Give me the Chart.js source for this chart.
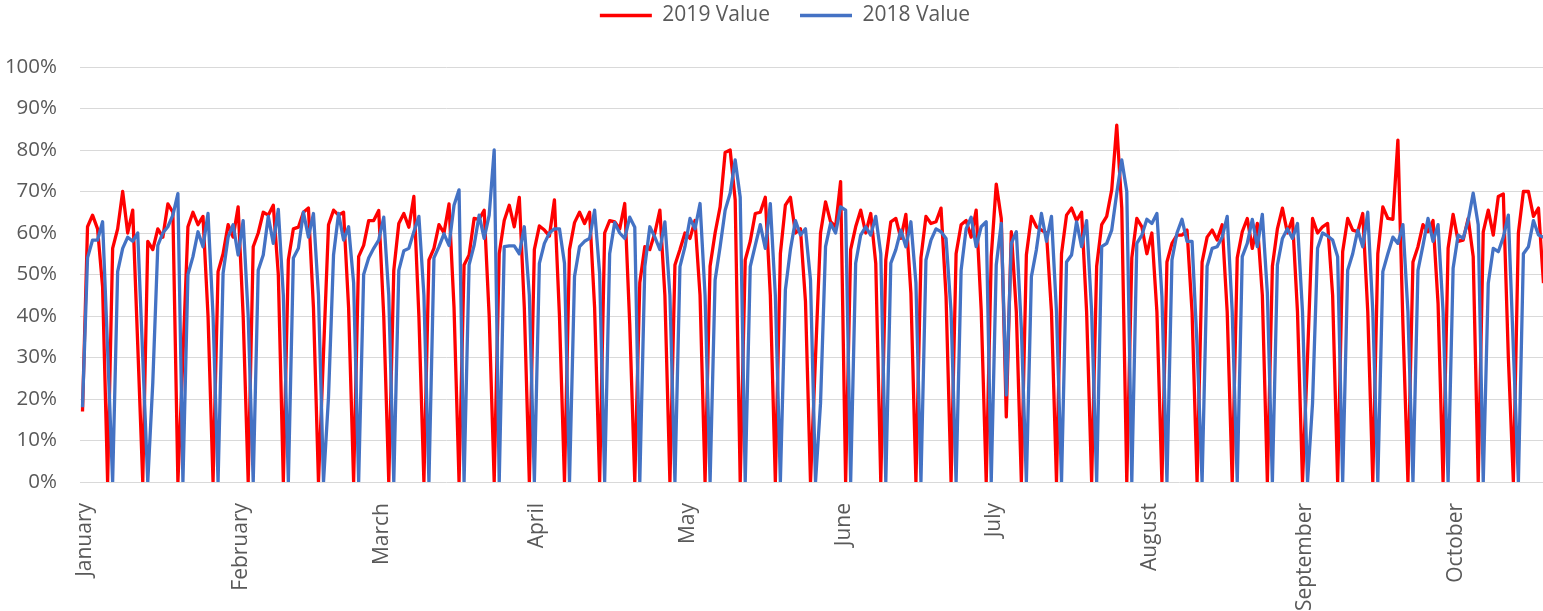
<!DOCTYPE html>
<html>
<head>
<meta charset="utf-8">
<script src="https://cdn.jsdelivr.net/npm/chart.js@4.4.1/dist/chart.umd.min.js"></script>
<style>
  html, body { margin: 0; padding: 0; background: #ffffff; overflow: hidden; }
  #wrap { width: 1546px; height: 611px; }
</style>
</head>
<body>
<div id="wrap"><canvas id="c" width="1546" height="611"></canvas></div>
<script>
// ---- data ----
const monthNames = ['January','February','March','April','May','June','July','August','September','October'];
const monthStartIndex = [0, 31, 59, 90, 120, 151, 181, 212, 243, 273];
const yTickValues = [0,10,20,30,40,50,60,70,80,90,100];

const values2019 = [
  17,61.5,64.3,61,47,0,
  56.3,61,70,60,65.5,33,0,
  58,56,61,59,67,65,0,
  30,61.5,65,62,64,40,0,
  50.7,55,62,59,66.3,40,0,
  56.7,60,65,64.3,66.7,50,0,
  53.5,61,61.4,65,66,42,0,
  31,62,65.5,64.3,65,42,0,
  54.3,57,63,63,65.4,40,0,
  51,62.3,64.7,61.4,68.8,40,0,
  53.5,56.3,62,60,67,42,0,
  52.3,54.7,63.5,63.3,65.5,40,0,
  55,63,66.7,61.5,68.6,42,0,
  56,61.7,60.7,59.3,68,40,0,
  56,62.5,65,62.3,65,42,0,
  60,63,62.7,61,67.1,38,0,
  48,56.7,56,60,65.5,45,0,
  52.3,56,60,58.7,63,45,0,
  52,60,66.3,79.4,80,68,0,
  53.5,58,64.7,65,68.6,45,0,
  55,66.7,68.6,60,61,43.5,0,
  30,60,67.5,62.7,61.5,72.4,0,
  56,61.5,65.5,60,64.7,52.7,0,
  53.5,62.7,63.5,58.7,64.5,45.5,0,
  54,64,62.3,62.7,66,44.7,0,
  55,62,63,59,65.5,41.5,0,
  54.3,71.8,63.5,15.7,60.3,41,0,
  54.7,64,61.5,60.7,60,41,0,
  55,64.3,66,63,65,41,0,
  52,62,64,70.4,86,66,0,
  54,63.5,61.5,55,60,41,0,
  53,57.5,59.5,59.5,60.7,41,0,
  53,59,60.7,58.3,62,41,0,
  54,60.3,63.5,56.3,62.3,45,0,
  52,61,66,60,63.5,41,0,
  30,63.5,60,61.5,62.3,45,0,
  55.5,63.5,60.7,60.3,64.7,41,0,
  55,66.3,63.5,63.3,82.4,38,0,
  53,56.7,62,60.3,63,43,0,
  56.3,64.5,58,58.3,63.5,54.3,0,
  60.3,65.5,59.5,68.8,69.4,30,0,
  60,70,70,64,66,47.9
];

const values2018 = [
  18,54,58.3,58.3,62.7,32,0,
  50.7,56.3,59,58,60,30,0,
  24,57,60,61.5,64.3,69.5,0,
  50,54.3,60.3,56.7,64.7,40,0,
  50.3,59,62,54.7,63,40,0,
  51,54.7,64,57.5,65.7,45,0,
  54,56.3,65,59,64.7,45,0,
  20.5,54.7,64.7,58.3,61.5,48,0,
  50,54,56.3,58.3,63.8,45,0,
  51,55.7,56.3,60.3,64,45,0,
  54,56.7,59.8,57,66.7,70.4,0,
  52.3,57,64.3,58.7,64.3,80,0,
  56.7,56.9,56.9,55,61.5,45,0,
  52.7,57.5,60,61,61,52.7,0,
  49.5,56.7,58,58.7,65.5,50.3,0,
  55,62.5,60,58.7,63.8,61.4,0,
  51.9,61.5,59,56,62.7,45,0,
  51.9,56.7,63.5,61,67.1,45,0,
  48.7,56.7,65.5,69.6,77.6,68.6,0,
  51.9,57,62,56.3,67.1,45,0,
  46.3,56,63,59.5,61,48.7,0,
  19,56.7,62.3,60,66.3,65.5,0,
  52.7,59.5,61.5,59.5,64,55,0,
  52.7,56,60.7,56.7,62.7,48,0,
  53.5,58.3,61,60.3,58.7,41,0,
  51,61,63.8,56.7,61.5,62.7,0,
  52.3,62.3,21,57.5,60.3,37,0,
  49.5,56,64.7,58,64,41,0,
  53,54.7,62.7,56.7,63,41,0,
  56.7,57.5,60.7,69.6,77.6,70,0,
  57.5,59.5,63.3,62.3,64.7,44.7,0,
  53.5,60,63.3,58,58,33,0,
  52,56.3,56.7,59,64,41,0,
  54.3,57.5,63.3,56.7,64.5,45.5,0,
  52.3,58.7,61,58.7,62.3,41,0,
  19,56.3,60,59.3,58.3,54.3,0,
  51,55,60.7,56.7,65,41,0,
  50.7,55,59,57.5,62,41,0,
  51,57,63.5,58,62,41,0,
  51.5,59.5,58.7,63,69.6,62,0,
  47.9,56.3,55.5,59,64.3,32,0,
  55,56.7,63,59.5,59
];

// category labels: month name on the first day of each month, blank otherwise
const dayLabels = values2019.map((_, i) => {
  const m = monthStartIndex.indexOf(i);
  return m >= 0 ? monthNames[m] : '';
});

const LEGEND_EXTRA = 31;
const LEGEND_SHIFT = 12;
const legendSpacer = {
  id: 'legendSpacer',
  beforeLayout(chart) {
    const lg = chart.legend;
    if (lg && !lg._spacerWrapped) {
      const fit = lg.fit;
      lg.fit = function () { fit.call(this); this.height += LEGEND_EXTRA; };
      const draw = lg.draw;
      lg.draw = function (area) {
        const c = this.ctx;
        c.save();
        c.translate(LEGEND_SHIFT, 0);
        draw.call(this, area);
        c.restore();
      };
      lg._spacerWrapped = true;
    }
  }
};

Chart.defaults.font.family = "'Open Sans', 'Liberation Sans', sans-serif";
Chart.defaults.color = '#595959';

new Chart(document.getElementById('c'), {
  type: 'line',
  data: {
    labels: dayLabels,
    datasets: [
      {
        label: '2019 Value',
        data: values2019,
        borderColor: '#FF0000',
        backgroundColor: '#FF0000',
        borderWidth: 3.3,
        pointRadius: 0,
        tension: 0,
        borderJoinStyle: 'round',
        order: 1
      },
      {
        label: '2018 Value',
        data: values2018,
        borderColor: '#4472C4',
        backgroundColor: '#4472C4',
        borderWidth: 3.3,
        pointRadius: 0,
        tension: 0,
        borderJoinStyle: 'round',
        order: 0
      }
    ]
  },
  options: {
    responsive: false,
    animation: false,
    layout: { padding: { top: -25, left: 0, right: 0, bottom: 0 } },
    plugins: {
      legend: {
        position: 'top',
        labels: {
          usePointStyle: true,
          pointStyle: 'line',
          pointStyleWidth: 52,
          padding: 30,
          font: { size: 21 },
          color: '#595959',
          sort: (a, b) => a.datasetIndex - b.datasetIndex
        }
      },
      tooltip: { enabled: false }
    },
    scales: {
      x: {
        type: 'category',
        offset: true,
        grid: { display: false, drawTicks: false },
        border: { display: false },
        ticks: {
          autoSkip: false,
          maxRotation: 90,
          minRotation: 90,
          padding: 21,
          labelOffset: 3,
          font: { size: 21 },
          color: '#595959'
        },
        afterFit(scale) {
          scale.height = 129;
          scale.paddingLeft = 0;
          scale.paddingRight = 0;
        }
      },
      y: {
        min: 0,
        max: 100,
        afterBuildTicks(scale) { scale.ticks = yTickValues.map(v => ({ value: v })); },
        grid: { color: '#d9d9d9', lineWidth: 1, drawTicks: false },
        border: { display: false },
        ticks: {
          padding: 23,
          font: { size: 20.5 },
          color: '#595959',
          callback: (v) => v + '%'
        },
        afterFit(scale) { scale.width = 80; }
      }
    }
  },
  plugins: [legendSpacer]
});
</script>
</body>
</html>
